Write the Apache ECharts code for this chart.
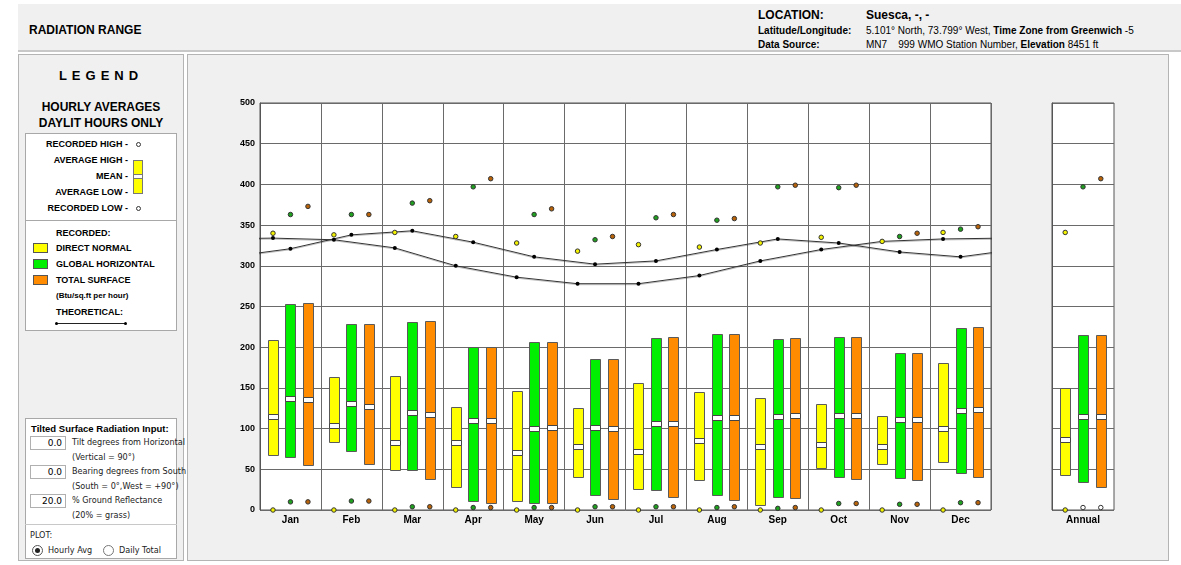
<!DOCTYPE html>
<html>
<head>
<meta charset="utf-8">
<script src="https://cdn.jsdelivr.net/npm/echarts@6/dist/echarts.min.js"></script>
<style>
  body { margin: 0; background: #fff; font-family: "Liberation Sans", Arial, sans-serif; }
  .abs { position: absolute; }
  .panel { position: absolute; background: #f0f0f0; border: 1px solid #b4b4b4; box-sizing: border-box; }
  .box { position: absolute; background: #fff; border: 1px solid #a8a8a8; box-sizing: border-box; }
  .b { font-weight: bold; }
  .t9 { font-size: 9px; font-weight: bold; color: #000; white-space: nowrap; }
  .s8 { font-size: 9px; color: #222; white-space: nowrap; font-family: "DejaVu Sans", sans-serif; transform: scaleX(0.9); transform-origin: left; }
  .inp { position: absolute; width: 36px; height: 14px; border: 1px solid #b0b0b0; background: #fff; box-sizing: border-box; font-size: 9px; text-align: right; padding-right: 3px; line-height: 12px; font-family: "DejaVu Sans", sans-serif; transform: none; }
  .sw { position: absolute; width: 15px; height: 10px; border: 1px solid #555; box-sizing: border-box; }
</style>
</head>
<body>
<!-- header -->
<div class="abs" style="left:18px;top:4px;width:1163px;height:46px;background:#f0f0f0;border-bottom:2px solid #c8c8c8;"></div>
<div class="abs b" style="left:29px;top:23px;font-size:12px;">RADIATION RANGE</div>
<div class="abs b" style="left:758px;top:8px;font-size:12px;">LOCATION:</div>
<div class="abs b" style="left:866px;top:8px;font-size:12px;">Suesca, -, -</div>
<div class="abs b" style="left:758px;top:25px;font-size:10px;">Latitude/Longitude:</div>
<div class="abs" style="left:866px;top:25px;font-size:10px;white-space:nowrap;">5.101° North, 73.799° West, <b>Time Zone from Greenwich</b> -5</div>
<div class="abs b" style="left:758px;top:39px;font-size:10px;">Data Source:</div>
<div class="abs" style="left:866px;top:39px;font-size:10px;white-space:nowrap;">MN7&nbsp;&nbsp;&nbsp;&nbsp;999 WMO Station Number, <b>Elevation</b> 8451 ft</div>

<!-- left legend panel -->
<div class="panel" style="left:18px;top:54px;width:166px;height:507px;"></div>
<div class="abs b" style="left:18px;width:166px;top:68px;text-align:center;font-size:13px;letter-spacing:5px;">LEGEND</div>
<div class="abs b" style="left:18px;width:166px;top:99px;text-align:center;font-size:12px;line-height:16px;">HOURLY AVERAGES<br>DAYLIT HOURS ONLY</div>
<div class="box" style="left:25px;top:133px;width:152px;height:198px;"></div>
<div class="abs" style="left:25px;top:220px;width:152px;height:1px;background:#a8a8a8;"></div>
<div class="abs t9" style="right:1053px;top:139px;">RECORDED HIGH -</div>
<div class="abs t9" style="right:1053px;top:155px;">AVERAGE HIGH -</div>
<div class="abs t9" style="right:1053px;top:171px;">MEAN -</div>
<div class="abs t9" style="right:1053px;top:187px;">AVERAGE LOW -</div>
<div class="abs t9" style="right:1053px;top:203px;">RECORDED LOW -</div>
<div class="abs" style="left:136px;top:142px;width:3px;height:3px;border:1px solid #333;border-radius:50%;background:#fff;"></div>
<div class="abs" style="left:136px;top:206px;width:3px;height:3px;border:1px solid #333;border-radius:50%;background:#fff;"></div>
<div class="abs" style="left:133px;top:160px;width:10px;height:34px;background:#ffff00;border:1px solid #777;box-sizing:border-box;"></div>
<div class="abs" style="left:134px;top:174px;width:8px;height:5px;background:#fff;border-top:1px solid #777;border-bottom:1px solid #777;box-sizing:border-box;"></div>
<div class="abs t9" style="left:56px;top:228px;">RECORDED:</div>
<div class="sw" style="left:33px;top:243px;background:#ffff00;"></div>
<div class="abs t9" style="left:56px;top:243px;">DIRECT NORMAL</div>
<div class="sw" style="left:33px;top:259px;background:#00ee00;"></div>
<div class="abs t9" style="left:56px;top:259px;">GLOBAL HORIZONTAL</div>
<div class="sw" style="left:33px;top:275px;background:#ff8c00;"></div>
<div class="abs t9" style="left:56px;top:275px;">TOTAL SURFACE</div>
<div class="abs t9" style="left:56px;top:291px;font-size:8px;">(Btu/sq.ft per hour)</div>
<div class="abs t9" style="left:56px;top:307px;">THEORETICAL:</div>
<div class="abs" style="left:57px;top:323px;width:68px;height:1px;background:#222;"></div>
<div class="abs" style="left:55px;top:322px;width:3px;height:3px;background:#000;border-radius:50%;"></div>
<div class="abs" style="left:124px;top:322px;width:3px;height:3px;background:#000;border-radius:50%;"></div>

<div class="box" style="left:25px;top:418px;width:152px;height:141px;"></div>
<div class="abs" style="left:25px;top:524px;width:152px;height:1px;background:#c8c8c8;"></div>
<div class="abs b" style="left:31px;top:423px;font-size:9.5px;white-space:nowrap;">Tilted Surface Radiation Input:</div>
<div class="inp" style="left:30px;top:436px;">0.0</div>
<div class="abs s8" style="left:72px;top:437px;">Tilt degrees from Horizontal</div>
<div class="abs s8" style="left:72px;top:452px;">(Vertical = 90°)</div>
<div class="inp" style="left:30px;top:465px;">0.0</div>
<div class="abs s8" style="left:72px;top:466px;">Bearing degrees from South</div>
<div class="abs s8" style="left:72px;top:481px;">(South = 0°,West = +90°)</div>
<div class="inp" style="left:30px;top:494px;">20.0</div>
<div class="abs s8" style="left:72px;top:495px;">% Ground Reflectance</div>
<div class="abs s8" style="left:72px;top:510px;">(20% = grass)</div>
<div class="abs s8" style="left:30px;top:530px;">PLOT:</div>
<div class="abs" style="left:32px;top:545px;width:11px;height:11px;border:1px solid #555;border-radius:50%;box-sizing:border-box;background:#fff;"></div>
<div class="abs" style="left:35px;top:548px;width:5px;height:5px;border-radius:50%;background:#222;"></div>
<div class="abs s8" style="left:48px;top:545px;">Hourly Avg</div>
<div class="abs" style="left:103px;top:545px;width:11px;height:11px;border:1px solid #777;border-radius:50%;box-sizing:border-box;background:#fff;"></div>
<div class="abs s8" style="left:119px;top:545px;">Daily Total</div>

<!-- chart panel -->
<div class="panel" style="left:187px;top:54px;width:982px;height:507px;"></div>
<div id="main" class="abs" style="left:188px;top:56px;width:979px;height:503px;"></div>

<script>
const months = ['Jan', 'Feb', 'Mar', 'Apr', 'May', 'Jun', 'Jul', 'Aug', 'Sep', 'Oct', 'Nov', 'Dec']

// direct normal
const dnRecHigh = [340, 338, 341, 336, 328, 318, 326, 323, 328, 335, 330, 341]
const dnAvgHigh = [209, 164, 165, 126, 146, 125, 156, 145, 137, 130, 116, 180]
const dnMean = [116, 104, 84, 83, 71, 79, 72, 86, 79, 81, 79, 101]
const dnAvgLow = [68, 83, 49, 28, 11, 41, 26, 37, 6, 52, 56, 59]
const dnRecLow = [0, 0, 0, 0, 0, 0, 0, 0, 0, 0, 0, 0]

// global horizontal
const ghRecHigh = [363, 363, 377, 397, 363, 332, 359, 356, 397, 396, 336, 345]
const ghAvgHigh = [253, 229, 231, 200, 206, 186, 211, 216, 210, 212, 193, 223]
const ghMean = [137, 131, 120, 110, 101, 102, 107, 114, 116, 117, 112, 123]
const ghAvgLow = [65, 73, 49, 11, 8, 19, 24, 18, 16, 40, 39, 46]
const ghRecLow = [10, 11, 4, 3, 3, 4, 4, 3, 2, 8, 7, 9]

// total surface
const tsRecHigh = [373, 363, 380, 407, 370, 336, 363, 358, 399, 399, 340, 348]
const tsAvgHigh = [254, 228, 232, 200, 206, 185, 212, 216, 211, 212, 193, 225]
const tsMean = [136, 128, 118, 110, 102, 101, 107, 114, 117, 117, 112, 124]
const tsAvgLow = [55, 57, 38, 8, 8, 14, 16, 12, 15, 38, 37, 41]
const tsRecLow = [10, 11, 4, 3, 3, 4, 4, 4, 3, 8, 7, 9]

// annual: direct normal, global horizontal, total surface
const annRecHigh = [341, 397, 407]
const annAvgHigh = [150, 215, 215]
const annMean = [87, 116, 115]
const annAvgLow = [43, 34, 28]
const annRecLow = [0, 3, 3]

// theoretical curves
const theoGH = [321, 338, 343, 329, 311, 302, 306, 320, 333, 328, 317, 311]
const theoDN = [334, 332, 322, 300, 286, 278, 278, 288, 306, 320, 330, 333]

const colors = ['#ffff00', '#00ee00', '#ff8c00']
const dotColors = ['#f2f200', '#1fa01f', '#b8630a']
const offsets = [0.213, 0.5, 0.787]
const font = 'Liberation Sans, Arial, sans-serif'

const chart = echarts.init(document.getElementById('main'))

function renderBox (params, api) {
  const x = api.value(0)
  const pLow = api.coord([x, api.value(1)])
  const pHigh = api.coord([x, api.value(2)])
  const pMean = api.coord([x, api.value(3)])
  const w = 10
  const left = Math.round(pLow[0] - w / 2) + 0.5
  const top = Math.round(pHigh[1]) + 0.5
  const bottom = Math.round(pLow[1]) + 0.5
  const my = Math.round(pMean[1]) + 0.5
  return {
    type: 'group',
    children: [
      { type: 'rect', shape: { x: left, y: top, width: w, height: bottom - top }, style: { fill: api.visual('color'), stroke: '#5a5a5a', lineWidth: 1 } },
      { type: 'rect', shape: { x: left, y: my - 2, width: w, height: 5 }, style: { fill: '#fff', stroke: '#444', lineWidth: 1 } }
    ]
  }
}

function boxData (xs, lows, highs, means) {
  return xs.map((x, i) => [x, lows[i], highs[i], means[i]])
}

const series = []
const groups = [
  [dnAvgLow, dnAvgHigh, dnMean, dnRecHigh, dnRecLow],
  [ghAvgLow, ghAvgHigh, ghMean, ghRecHigh, ghRecLow],
  [tsAvgLow, tsAvgHigh, tsMean, tsRecHigh, tsRecLow]
]
groups.forEach((g, k) => {
  const xs = months.map((m, i) => i + offsets[k])
  series.push({
    type: 'custom', xAxisIndex: 0, yAxisIndex: 0, renderItem: renderBox,
    itemStyle: { color: colors[k] }, data: boxData(xs, g[0], g[1], g[2]), z: 3
  })
  series.push({
    type: 'scatter', xAxisIndex: 0, yAxisIndex: 0, symbolSize: 4.5, z: 5,
    itemStyle: { color: dotColors[k], borderColor: '#333', borderWidth: 1, opacity: 1 },
    data: xs.map((x, i) => [x, g[3][i]]).concat(xs.map((x, i) => [x, g[4][i]]))
  })
  // annual
  series.push({
    type: 'custom', xAxisIndex: 2, yAxisIndex: 1, renderItem: renderBox,
    itemStyle: { color: colors[k] }, data: [[offsets[k], annAvgLow[k], annAvgHigh[k], annMean[k]]], z: 3
  })
  series.push({
    type: 'scatter', xAxisIndex: 2, yAxisIndex: 1, symbolSize: 4.5, z: 5,
    itemStyle: { color: dotColors[k], borderColor: '#333', borderWidth: 1, opacity: 1 },
    data: [
      [offsets[k], annRecHigh[k]],
      { value: [offsets[k], annRecLow[k]], itemStyle: { color: k === 0 ? dotColors[0] : '#fff' } }
    ]
  })
})

function theoLine (vals, off) {
  // wrap Dec before Jan and Jan after Dec so the curve runs to the plot edges
  const pts = [[off - 1, vals[11]]]
  vals.forEach((v, i) => pts.push([i + off, v]))
  pts.push([12 + off, vals[0]])
  return {
    type: 'line', xAxisIndex: 0, yAxisIndex: 0, data: pts, clip: true, z: 4,
    symbol: 'circle', symbolSize: 4, showSymbol: true,
    lineStyle: { color: '#333', width: 1, shadowColor: 'rgba(0,0,0,0.25)', shadowOffsetY: 1 },
    itemStyle: { color: '#000' }
  }
}
series.push(theoLine(theoGH, 0.5))
series.push(theoLine(theoDN, 0.213))

const gridLine = { show: true, lineStyle: { color: '#6a6a6a', width: 1 } }
const yBase = {
  type: 'value', min: 0, max: 500, interval: 50,
  axisLine: { show: true, lineStyle: { color: '#555' } },
  axisTick: { show: false },
  splitLine: gridLine
}

const option = {
  animation: false,
  grid: [
    { left: 72, top: 47, width: 731, height: 407, show: true, backgroundColor: '#fff', borderColor: '#555', borderWidth: 1 },
    { left: 864, top: 47, width: 62, height: 407, show: true, backgroundColor: '#fff', borderColor: '#555', borderWidth: 1 }
  ],
  xAxis: [
    { type: 'value', gridIndex: 0, min: 0, max: 12, interval: 1, position: 'bottom',
      axisLine: { show: false }, axisTick: { show: false }, axisLabel: { show: false }, splitLine: gridLine },
    { type: 'category', gridIndex: 0, data: months, position: 'bottom',
      axisLine: { show: false }, axisTick: { show: false }, splitLine: { show: false },
      axisLabel: { color: '#000', fontWeight: 'bold', fontSize: 10, fontFamily: font, margin: 5 } },
    { type: 'value', gridIndex: 1, min: 0, max: 1, interval: 1, position: 'bottom',
      axisLine: { show: false }, axisTick: { show: false }, axisLabel: { show: false }, splitLine: { show: false } },
    { type: 'category', gridIndex: 1, data: ['Annual'], position: 'bottom',
      axisLine: { show: false }, axisTick: { show: false }, splitLine: { show: false },
      axisLabel: { color: '#000', fontWeight: 'bold', fontSize: 10, fontFamily: font, margin: 5 } }
  ],
  yAxis: [
    Object.assign({}, yBase, { gridIndex: 0,
      axisLabel: { color: '#000', fontWeight: 'bold', fontSize: 9, fontFamily: font, margin: 5 } }),
    Object.assign({}, yBase, { gridIndex: 1, axisLabel: { show: false } })
  ],
  series: series
}

chart.setOption(option)
</script>
</body>
</html>
